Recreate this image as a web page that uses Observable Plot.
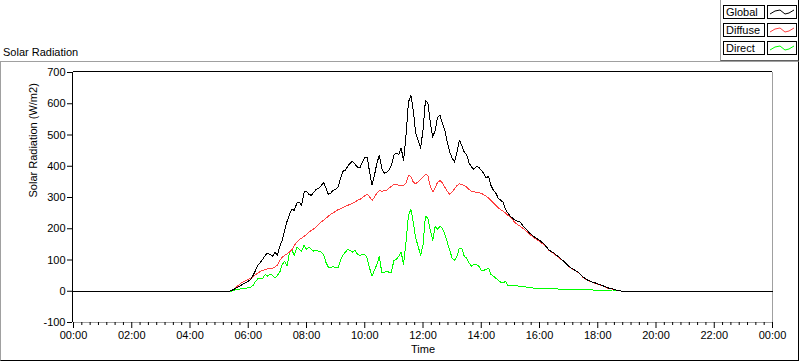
<!DOCTYPE html>
<html>
<head>
<meta charset="utf-8">
<script src="https://cdn.jsdelivr.net/npm/d3@7"></script>
<script src="https://cdn.jsdelivr.net/npm/@observablehq/plot@0.6"></script>
<style>
  html, body { margin: 0; padding: 0; background: #fff; }
  #wrap { position: relative; width: 800px; height: 361px; font-family: "Liberation Sans", Arial, sans-serif; font-size: 11px; color: #000; }
  #header { position: relative; width: 800px; height: 61px; }
  #title { position: absolute; left: 3px; top: 46px; line-height: 13px; white-space: nowrap; }
  #legend { position: absolute; left: 720px; top: 0; width: 77px; height: 60px; border-left: 1px solid #a0a0a0; border-right: 1px solid #000; border-bottom: 1px solid #606060; background: #fff; }
  .lg-item { position: absolute; left: 2px; height: 14px; }
  .lg-label { position: absolute; left: 0; top: 0; width: 38px; height: 12px; border: 1px solid #000; line-height: 12px; padding-left: 2px; white-space: nowrap; }
  .lg-swatch { position: absolute; left: 44px; top: 0; width: 28px; height: 12px; border: 1px solid #000; }
  #panel { position: absolute; left: 0; top: 61px; width: 797px; height: 298px; border-top: 1px solid #a0a0a0; border-left: 1px solid #a0a0a0; border-right: 1px solid #000; border-bottom: 1px solid #000; }
  #chart { position: absolute; left: 0; top: 61px; }
</style>
</head>
<body>
<div id="wrap">
  <div id="header">
    <div id="title">Solar Radiation</div>
    <div id="legend"></div>
  </div>
  <div id="panel"></div>
  <div id="chart"></div>
</div>
<script>
// ---- data (minutes since midnight, W/m2) ----
const times = [0,
  320,325,330,335,340,345,350,355,360,365,370,375,380,385,390,395,400,405,410,415,420,425,430,435,440,445,450,455,
  460,465,470,475,480,485,490,495,500,505,510,515,520,525,530,535,540,545,550,555,560,565,570,575,580,585,590,595,
  600,605,610,615,620,625,630,635,640,645,650,655,660,665,670,675,680,685,690,695,700,705,710,715,720,725,730,735,
  740,745,750,755,760,765,770,775,780,785,790,795,800,805,810,815,820,825,830,835,840,845,850,855,860,865,870,875,
  880,885,890,895,900,
  910,920,930,940,950,960,970,980,990,1000,1010,1020,1030,1040,1050,1060,1070,1080,1090,1100,1110,1120,1130,
  1440];

const globalVals = [0,
  0,2,6,10,14,19,24,27,32,38,51,67,83,93,102,115,122,118,112,125,115,144,163,195,224,246,262,259,
  282,285,275,317,320,310,307,317,326,330,336,349,330,310,314,323,326,333,362,384,387,400,410,416,406,397,394,413,
  429,429,381,339,371,410,435,394,378,381,387,403,435,442,438,458,419,499,605,627,579,506,483,458,515,611,602,541,
  493,515,557,563,538,515,477,445,426,413,445,483,467,445,438,410,397,390,400,397,387,378,362,368,339,323,314,298,
  291,285,262,250,240,
  227,221,202,186,173,163,150,131,122,109,96,80,70,61,45,35,29,24,18,11,8,3,0,
  0];

const diffuseVals = [0,
  0,2,6,13,19,26,30,35,38,42,46,53,58,64,67,70,72,72,74,78,83,99,109,115,120,126,133,147,
  157,165,170,176,182,189,195,200,206,214,222,227,234,240,246,251,256,261,264,267,272,275,278,282,286,291,294,299,
  306,310,302,291,301,314,322,320,322,323,330,336,342,342,339,338,339,346,371,368,349,344,350,358,366,374,370,336,
  318,330,349,354,346,333,320,310,318,328,338,344,342,338,333,326,320,318,317,315,314,309,304,298,291,283,275,267,
  261,256,250,243,237,
  219,208,197,182,170,160,147,130,120,107,95,79,69,60,44,34,28,23,17,10,7,3,0,
  0];

const directVals = [0,
  0,0,3,5,6,8,9,10,11,13,19,32,40,42,42,54,48,54,51,42,51,61,86,96,80,125,131,115,
  141,134,128,147,134,141,134,128,131,128,125,118,93,77,77,78,77,74,99,115,125,134,131,125,131,118,115,118,
  118,106,74,48,67,86,112,61,61,64,61,61,99,102,112,125,86,157,243,262,221,170,144,115,147,240,234,195,
  163,208,198,208,202,182,157,131,106,99,112,138,138,112,106,90,80,86,86,80,67,67,70,74,54,48,42,35,
  29,26,32,19,19,
  18,16,14,11,10,9,8,8,9,7,6,5,6,5,5,5,4,4,4,4,4,3,0,
  0];

const seriesNames = ["Global", "Diffuse", "Direct"];
const seriesColors = ["#000000", "#ff4040", "#00ff00"];
const yTicks = [-100, 0, 100, 200, 300, 400, 500, 600, 700];
const xTickLabels = ["00:00","02:00","04:00","06:00","08:00","10:00","12:00","14:00","16:00","18:00","20:00","22:00","00:00"];
const xMajorTicks = xTickLabels.map((_, i) => i * 120);
const xMinorTicks = [];
for (let k = 0; k < 12; k++) for (let j = 1; j < 7; j++) xMinorTicks.push(k * 120 + j * 120 / 7);

const seriesVals = [globalVals, diffuseVals, directVals];
const rows = seriesNames.map((name, s) => times.map((t, i) => ({t, v: seriesVals[s][i], series: name})));

// ---- legend ----
const legend = document.getElementById("legend");
const tops = [5, 23, 41];
seriesNames.forEach((name, i) => {
  const item = document.createElement("div");
  item.className = "lg-item";
  item.style.top = tops[i] + "px";
  item.innerHTML = `<div class="lg-label">${name}</div>
    <div class="lg-swatch"><svg width="28" height="12"><polyline points="2,8 7,5 12,4 17,8 21,7 26,4" fill="none" stroke="${seriesColors[i]}" stroke-width="1"/></svg></div>`;
  legend.appendChild(item);
});

// ---- chart ----
const chart = Plot.plot({
  width: 800,
  height: 300,
  marginLeft: 73,
  marginRight: 28,
  marginTop: 11,
  marginBottom: 39,
  x: {domain: [0, 1440]},
  y: {domain: [-100, 700]},
  style: {fontFamily: '"Liberation Sans", Arial, sans-serif', fontSize: "11px", color: "#000", background: "transparent", overflow: "visible"},
  marks: [
    Plot.ruleX([1440], {stroke: "#a0a0a0"}),
    Plot.ruleY([-100], {stroke: "#a0a0a0"}),
    Plot.ruleX([0], {stroke: "#000", dx: -1}),
    Plot.ruleY([700], {stroke: "#000", dy: -1}),
    Plot.line(rows[2], {x: "t", y: "v", stroke: seriesColors[2], strokeWidth: 1, shapeRendering: "crispEdges"}),
    Plot.line(rows[1], {x: "t", y: "v", stroke: seriesColors[1], strokeWidth: 1, shapeRendering: "crispEdges"}),
    Plot.line(rows[0], {x: "t", y: "v", stroke: seriesColors[0], strokeWidth: 1, shapeRendering: "crispEdges"}),
    Plot.axisY({ticks: yTicks, tickSize: 5, tickPadding: 2, dx: -1, label: null, tickFormat: d => String(d)}),
    Plot.axisX({ticks: xMinorTicks, tickSize: 3, tickFormat: () => "", label: null}),
    Plot.axisX({ticks: xMajorTicks, tickSize: 6, tickPadding: 3, label: null, tickFormat: d => xTickLabels[Math.round(d / 120)]}),
    Plot.text(["Solar Radiation (W/m2)"], {frameAnchor: "left", rotate: -90, dx: -40}),
    Plot.text(["Time"], {frameAnchor: "bottom", dy: 30})
  ]
});
document.getElementById("chart").appendChild(chart);
</script>
</body>
</html>
